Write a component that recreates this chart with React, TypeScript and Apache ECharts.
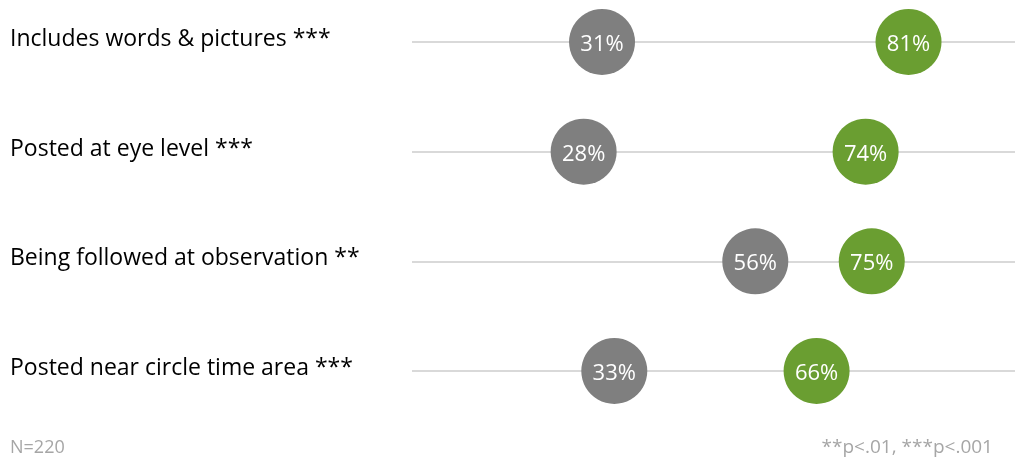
import React, { useEffect, useRef } from "react";
import * as echarts from "echarts";

const categories = [
  "Includes words & pictures ***",
  "Posted at eye level ***",
  "Being followed at observation **",
  "Posted near circle time area ***",
];
const grayValues = [31, 28, 56, 33];
const greenValues = [81, 74, 75, 66];
const footLeft = "N=220";
const footRight = "**p<.01, ***p<.001";

export default function App() {
  const ref = useRef<HTMLDivElement>(null);
  useEffect(() => {
    document.body.style.margin = "0";
    const chart = echarts.init(ref.current!, null, { renderer: "svg" });
    const labelCfg = {
      show: true,
      position: "inside",
      color: "#ffffff",
      fontFamily: "Open Sans",
      fontSize: 22,
      formatter: (p: any) => p.value[0] + "%",
    };
    chart.setOption({
      animation: false,
      grid: {
        left: 412,
        width: 613,
        top: 42,
        height: 329,
        containLabel: false,
        outerBoundsMode: "none",
      },
      xAxis: {
        type: "value",
        min: 0,
        max: 100,
        show: false,
      },
      yAxis: {
        type: "category",
        data: categories,
        inverse: true,
        boundaryGap: false,
        axisLine: { show: false },
        axisTick: { show: false },
        splitLine: { show: true, lineStyle: { color: "#d9d9d9", width: 2 } },
        axisLabel: {
          align: "left",
          margin: 402,
          verticalAlign: "middle",
          formatter: (v: string) => "{a|" + v + "}",
          rich: {
            a: {
              color: "#000000",
              fontFamily: "Open Sans",
              fontSize: 23,
              padding: [0, 0, 10, 0],
            },
          },
        },
      },
      series: [
        {
          type: "scatter",
          symbol: "circle",
          symbolSize: 66,
          itemStyle: { color: "#7f7f7f", opacity: 1 },
          label: labelCfg,
          data: grayValues.map((v, i) => [v, categories[i]]),
        },
        {
          type: "scatter",
          symbol: "circle",
          symbolSize: 66,
          itemStyle: { color: "#6a9e31", opacity: 1 },
          label: labelCfg,
          data: greenValues.map((v, i) => [v, categories[i]]),
        },
      ],
      graphic: [
        {
          type: "text",
          x: 10,
          y: 446,
          style: {
            text: footLeft,
            fill: "#a6a6a6",
            fontFamily: "Open Sans",
            fontSize: 18,
            verticalAlign: "middle",
            align: "left",
          },
        },
        {
          type: "text",
          x: 993,
          y: 446,
          style: {
            text: footRight,
            fill: "#a6a6a6",
            fontFamily: "Open Sans",
            fontSize: 19,
            verticalAlign: "middle",
            align: "right",
          },
        },
      ],
    });
    return () => chart.dispose();
  }, []);
  return (
    <div
      ref={ref}
      style={{ position: "fixed", left: 0, top: 0, width: 1015, height: 475 }}
    />
  );
}
